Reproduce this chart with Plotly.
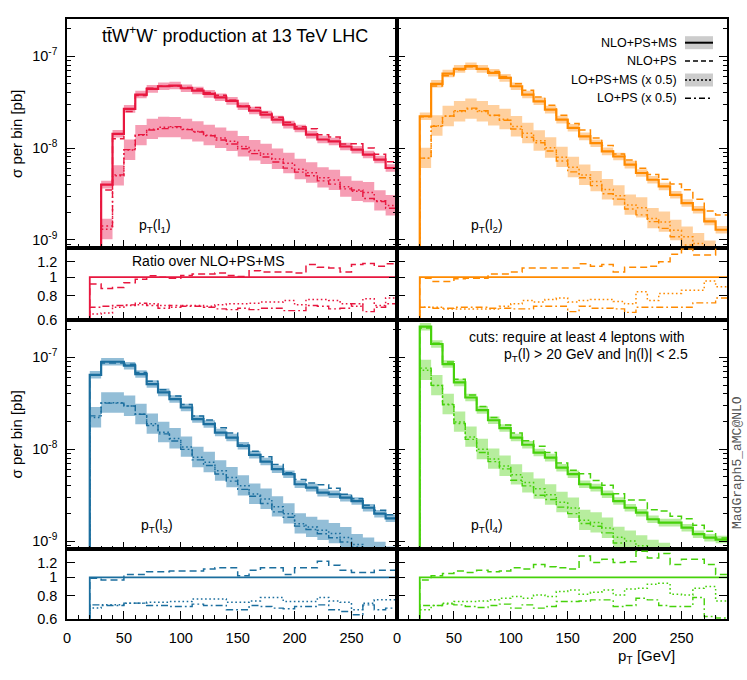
import numpy as np
import plotly.graph_objects as go

# ---------------- data ----------------
bin_lo = [20, 30, 40, 50, 60, 70, 80, 90, 100, 110, 120, 130, 140, 150, 160,
          170, 180, 190, 200, 210, 220, 230, 240, 250, 260, 270, 280]
bin_hi_last = 290
x_ticks = [0, 50, 100, 150, 200, 250]
y_ticks = [1e-9, 1e-8, 1e-7]
y_tick_text = ["10<sup>-9</sup>", "10<sup>-8</sup>", "10<sup>-7</sup>"]
r_ticks = [0.6, 0.8, 1.0, 1.2]
r_tick_text = ["0.6", "0.8", "1", "1.2"]

# NLO+PS+MS cross section per bin [pb]
nlo_psms_l1 = [5e-10, 4.0e-9, 1.43e-8, 2.67e-8, 3.82e-8, 4.41e-8, 4.71e-8, 4.79e-8, 4.48e-8,
               4.23e-8, 3.89e-8, 3.57e-8, 3.26e-8, 2.85e-8, 2.56e-8, 2.31e-8, 2.04e-8, 1.80e-8,
               1.63e-8, 1.40e-8, 1.24e-8, 1.18e-8, 1.04e-8, 9.6e-9, 8.5e-9, 7.5e-9, 6.07e-9]
nlo_psms_l2 = [2.22e-8, 5.0e-8, 6.47e-8, 7.28e-8, 7.78e-8, 7.28e-8, 6.59e-8, 5.81e-8, 4.71e-8,
               3.82e-8, 3.23e-8, 2.62e-8, 2.04e-8, 1.66e-8, 1.34e-8, 1.13e-8, 9.2e-9, 8.1e-9,
               6.6e-9, 5.35e-9, 4.52e-9, 3.82e-9, 3.1e-9, 2.52e-9, 2.13e-9, 1.59e-9, 1.29e-9]
nlo_psms_l3 = [6.47e-8, 8.97e-8, 8.97e-8, 8.12e-8, 6.59e-8, 5.13e-8, 4.16e-8, 3.52e-8, 2.85e-8,
               2.13e-8, 1.88e-8, 1.52e-8, 1.34e-8, 1.09e-8, 8.7e-9, 7.35e-9, 6.07e-9, 5.35e-9,
               4.16e-9, 3.82e-9, 3.37e-9, 3.24e-9, 2.97e-9, 2.73e-9, 2.31e-9, 1.99e-9, 1.77e-9]
nlo_psms_l4 = [2.16e-7, 1.4e-7, 8.47e-8, 5.34e-8, 3.66e-8, 2.67e-8, 2.07e-8, 1.7e-8, 1.34e-8,
               1.12e-8, 9.2e-9, 8.1e-9, 6.3e-9, 5.35e-9, 4.16e-9, 3.82e-9, 3.24e-9, 2.73e-9,
               2.31e-9, 2.04e-9, 1.73e-9, 1.59e-9, 1.59e-9, 1.4e-9, 1.19e-9, 1.09e-9, 1.04e-9]

# ratios over NLO+PS+MS
r_nlops_l1 = [0.922, 0.875, 0.885, 0.937, 0.976, 1.016, 1.0, 0.988, 1.02, 1.037, 1.037, 1.05, 1.02,
              1.008, 1.08, 1.063, 1.063, 1.063, 1.05, 1.162, 1.125, 1.116, 1.063, 1.162, 1.177, 1.139, 1.172]
r_lopsms_l1 = [0.645, 0.653, 0.70, 0.714, 0.72, 0.729, 0.714, 0.70, 0.714, 0.714, 0.708, 0.72, 0.729,
               0.729, 0.734, 0.744, 0.744, 0.759, 0.72, 0.768, 0.768, 0.759, 0.729, 0.708, 0.774, 0.714, 0.781]
r_lops_l1 = [0.70, 0.708, 0.714, 0.72, 0.734, 0.714, 0.691, 0.714, 0.708, 0.708, 0.70, 0.686, 0.68,
             0.691, 0.68, 0.691, 0.691, 0.672, 0.672, 0.714, 0.708, 0.686, 0.691, 0.729, 0.664, 0.70, 0.729]

r_nlops_l2 = [0.988, 0.949, 0.949, 0.98, 0.988, 0.988, 1.037, 1.037, 1.063, 1.116, 1.116, 1.116, 1.116,
              1.116, 1.172, 1.139, 1.162, 1.063, 1.125, 1.125, 1.139, 1.2, 1.313, 1.395, 1.30, 1.30, 1.45]
r_lopsms_l2 = [0.70, 0.70, 0.686, 0.686, 0.686, 0.686, 0.686, 0.708, 0.729, 0.759, 0.744, 0.768, 0.781,
               0.744, 0.759, 0.768, 0.768, 0.749, 0.729, 0.84, 0.759, 0.823, 0.823, 0.857, 0.857, 0.956, 0.893]
r_lops_l2 = [0.70, 0.691, 0.691, 0.70, 0.70, 0.70, 0.691, 0.691, 0.686, 0.686, 0.708, 0.708, 0.708,
             0.664, 0.708, 0.691, 0.691, 0.686, 0.658, 0.70, 0.70, 0.70, 0.70, 0.70, 0.737, 0.737, 0.781]

r_nlops_l3 = [0.988, 0.968, 0.968, 1.037, 1.037, 1.071, 1.071, 1.08, 1.08, 1.08, 1.107, 1.125, 1.125,
              1.02, 1.093, 1.125, 1.125, 1.037, 1.125, 1.125, 1.22, 1.162, 1.093, 1.063, 1.063, 1.093, 1.093]
r_lopsms_l3 = [0.686, 0.714, 0.714, 0.729, 0.729, 0.737, 0.737, 0.744, 0.744, 0.768, 0.768, 0.768, 0.737,
               0.737, 0.749, 0.781, 0.781, 0.744, 0.744, 0.744, 0.781, 0.749, 0.737, 0.672, 0.729, 0.759, 0.759]
r_lops_l3 = [0.714, 0.708, 0.708, 0.729, 0.729, 0.708, 0.708, 0.70, 0.70, 0.72, 0.708, 0.708, 0.672,
             0.672, 0.708, 0.70, 0.686, 0.68, 0.70, 0.70, 0.714, 0.672, 0.658, 0.632, 0.714, 0.672, 0.686]

r_nlops_l4 = [0.968, 1.02, 1.05, 1.08, 1.063, 1.093, 1.071, 1.08, 1.125, 1.107, 1.172, 1.139, 1.125,
              1.107, 1.302, 1.2, 1.25, 1.2, 1.21, 1.378, 1.27, 1.34, 1.172, 1.25, 1.25, 1.172, 1.037]
r_lopsms_l4 = [0.672, 0.708, 0.729, 0.744, 0.744, 0.749, 0.759, 0.774, 0.79, 0.774, 0.806, 0.79, 0.84,
               0.857, 0.813, 0.833, 0.857, 0.806, 0.868, 0.875, 0.918, 0.93, 0.813, 0.806, 0.875, 0.893, 0.749]
r_lops_l4 = [0.708, 0.708, 0.72, 0.714, 0.70, 0.691, 0.708, 0.72, 0.686, 0.714, 0.686, 0.70, 0.744,
             0.744, 0.749, 0.759, 0.759, 0.70, 0.708, 0.774, 0.759, 0.708, 0.70, 0.70, 0.781, 0.619, 0.607]

# relative scale-uncertainty bands
nlo_band_up = [1.10, 1.10, 1.10, 1.10]
nlo_band_dn = [0.91, 0.91, 0.91, 0.91]
lo_band_up = [1.30, 1.30, 1.30, 1.30]
lo_band_dn = [0.78, 0.78, 0.78, 0.78]
lo_scale = 0.5

panel_labels = ["p<sub>T</sub>(l<sub>1</sub>)", "p<sub>T</sub>(l<sub>2</sub>)",
                "p<sub>T</sub>(l<sub>3</sub>)", "p<sub>T</sub>(l<sub>4</sub>)"]
legend_names = ["NLO+PS+MS", "NLO+PS", "LO+PS+MS (x 0.5)", "LO+PS (x 0.5)"]

line_colors = ["#e8173f", "#ff8a00", "#1b6e9e", "#46d10a"]
band_colors = ["rgba(238,60,105,0.50)", "rgba(255,150,40,0.45)",
               "rgba(40,125,175,0.50)", "rgba(95,215,40,0.45)"]

nlo_all = [nlo_psms_l1, nlo_psms_l2, nlo_psms_l3, nlo_psms_l4]
r_nlops_all = [r_nlops_l1, r_nlops_l2, r_nlops_l3, r_nlops_l4]
r_lopsms_all = [r_lopsms_l1, r_lopsms_l2, r_lopsms_l3, r_lopsms_l4]
r_lops_all = [r_lops_l1, r_lops_l2, r_lops_l3, r_lops_l4]

# ---------------- layout geometry ----------------
W, H = 747, 680
ML, MR, MT, MB = 67, 20, 19, 61
PW, PH = W - ML - MR, H - MT - MB


def px(x, y):
    return (x - ML) / PW, (H - MB - y) / PH


x_dom = [[0.0, 0.5], [0.5, 1.0]]
main_dom = [[0.618, 1.0], [0.116, 0.498]]
ratio_dom = [[0.498, 0.618], [0.0, 0.116]]

DASH = "7px,4px"
DOT = "1.6px,2.6px"
DASHDOT = "7px,3px,1.8px,3px"

fig = go.Figure()

step_x = bin_lo + [bin_hi_last]


def step(vals):
    return list(vals) + [vals[-1]]


def with_edge(vals, floor):
    return [bin_lo[0]] + step_x, [floor] + step(vals)


for p in range(4):
    xa_m, ya_m = "x%d" % (2 * p + 1) if p else "x", "y%d" % (2 * p + 1) if p else "y"
    xa_r, ya_r = "x%d" % (2 * p + 2), "y%d" % (2 * p + 2)
    col = line_colors[p]
    bcol = band_colors[p]
    nlo = np.array(nlo_all[p])
    r1 = np.array(r_nlops_all[p])
    r2 = np.array(r_lopsms_all[p])
    r3 = np.array(r_lops_all[p])
    nlo_ps = nlo * r1
    lo_psms = nlo * r2 * lo_scale
    lo_ps = nlo * r3 * lo_scale

    # bands
    for center, up, dn in [(nlo, nlo_band_up[p], nlo_band_dn[p]),
                           (lo_psms, lo_band_up[p], lo_band_dn[p])]:
        fig.add_trace(go.Scatter(x=step_x, y=step(center * dn), xaxis=xa_m, yaxis=ya_m,
                                 mode="lines", line=dict(width=0, shape="hv"),
                                 showlegend=False, hoverinfo="skip"))
        fig.add_trace(go.Scatter(x=step_x, y=step(center * up), xaxis=xa_m, yaxis=ya_m,
                                 mode="lines", line=dict(width=0, shape="hv"),
                                 fill="tonexty", fillcolor=bcol,
                                 showlegend=False, hoverinfo="skip"))

    floor = 1e-12
    for vals, dash, w in [(lo_ps, DASHDOT, 1.4), (lo_psms, DOT, 1.5),
                          (nlo_ps, DASH, 1.5), (nlo, "solid", 2.2)]:
        xs, ys = with_edge(vals, floor)
        fig.add_trace(go.Scatter(x=xs, y=ys, xaxis=xa_m, yaxis=ya_m, mode="lines",
                                 line=dict(color=col, width=w, dash=dash, shape="hv"),
                                 showlegend=False, hoverinfo="skip"))

    # ratio panel
    ones = nlo / nlo
    for vals, dash, w in [(r3, DASHDOT, 1.4), (r2, DOT, 1.5), (r1, DASH, 1.5), (ones, "solid", 1.8)]:
        xs, ys = with_edge(vals, 0.1)
        fig.add_trace(go.Scatter(x=xs, y=ys, xaxis=xa_r, yaxis=ya_r, mode="lines",
                                 line=dict(color=col, width=w, dash=dash, shape="hv"),
                                 showlegend=False, hoverinfo="skip"))

tickfont = dict(family="Liberation Sans, Arial, sans-serif", size=14.5, color="black")
minor_y_vals = [m * 10.0 ** e for e in (-10, -9, -8, -7) for m in range(2, 10)]

layout = dict(width=W, height=H, margin=dict(l=ML, r=MR, t=MT, b=MB),
              paper_bgcolor="white", plot_bgcolor="white", showlegend=False,
              font=dict(family="Liberation Sans, Arial, sans-serif", size=14, color="black"))

for p in range(4):
    col_i, row_i = p % 2, p // 2
    km, kr = 2 * p + 1, 2 * p + 2
    for k, ydom, is_ratio in [(km, main_dom[row_i], False), (kr, ratio_dom[row_i], True)]:
        xname = "xaxis" if k == 1 else "xaxis%d" % k
        yname = "yaxis" if k == 1 else "yaxis%d" % k
        anchor_y = "y" if k == 1 else "y%d" % k
        anchor_x = "x" if k == 1 else "x%d" % k
        layout[xname] = dict(domain=x_dom[col_i], anchor=anchor_y, range=[0, 290],
                             tickmode="array", tickvals=x_ticks,
                             ticks="inside", ticklen=8, tickwidth=1.2, tickcolor="black",
                             showline=True, linecolor="black", linewidth=1.6, mirror=True,
                             showgrid=False, zeroline=False,
                             showticklabels=(is_ratio and row_i == 1),
                             tickfont=tickfont, ticklabelstandoff=5,
                             minor=dict(ticks="inside", ticklen=4, tickwidth=1, tickcolor="black",
                                        tickmode="array",
                                        tickvals=[v for v in range(0, 300, 10) if v % 50],
                                        showgrid=False))
        if not is_ratio:
            layout[yname] = dict(domain=ydom, anchor=anchor_x, type="log",
                                 range=[-9.09, -6.595], tickmode="array",
                                 tickvals=y_ticks, ticktext=y_tick_text,
                                 ticks="inside", ticklen=8, tickwidth=1.2, tickcolor="black",
                                 showline=True, linecolor="black", linewidth=1.6, mirror="ticks",
                                 showgrid=False, zeroline=False,
                                 showticklabels=(col_i == 0), tickfont=tickfont,
                                 ticklabelstandoff=5,
                                 minor=dict(ticks="inside", ticklen=4, tickwidth=1,
                                            tickcolor="black", tickmode="array",
                                            tickvals=minor_y_vals, showgrid=False))
        else:
            layout[yname] = dict(domain=ydom, anchor=anchor_x, type="log",
                                 range=[np.log10(0.6), np.log10(1.41)], tickmode="array",
                                 tickvals=r_ticks, ticktext=r_tick_text,
                                 ticks="inside", ticklen=8, tickwidth=1.2, tickcolor="black",
                                 showline=True, linecolor="black", linewidth=1.6, mirror="ticks",
                                 showgrid=False, zeroline=False,
                                 showticklabels=(col_i == 0), tickfont=tickfont,
                                 ticklabelstandoff=5)

fig.update_layout(**layout)

ann = []
shapes = []


def add_text(x, y, text, size=14, xanchor="center", yanchor="middle", angle=0,
             family="Liberation Sans, Arial, sans-serif", color="black"):
    ax, ay = px(x, y)
    ann.append(dict(x=ax, y=ay, xref="paper", yref="paper", text=text, showarrow=False,
                    xanchor=xanchor, yanchor=yanchor, textangle=angle,
                    font=dict(family=family, size=size, color=color)))


add_text(235, 35, "tt\u0304W<sup>+</sup>W<sup>-</sup> production at 13 TeV LHC", size=18)
add_text(155, 226, panel_labels[0], size=14)
add_text(487, 226, panel_labels[1], size=14)
add_text(157, 526, panel_labels[2], size=14)
add_text(487, 526, panel_labels[3], size=14)
add_text(208, 261, "Ratio over NLO+PS+MS", size=14)
add_text(687, 337, "cuts: require at least 4 leptons with", size=14, xanchor="right")
add_text(690, 355, "p<sub>T</sub>(l) > 20 GeV and |\u03b7(l)| < 2.5", size=14, xanchor="right")
add_text(737, 463, "MadGraph5_aMC@NLO", size=13, angle=-90,
         family="Liberation Mono, DejaVu Sans Mono, monospace", color="#555555")
add_text(646, 656, "p<sub>T</sub> [GeV]", size=15)
add_text(16, 134, "\u03c3 per bin [pb]", size=15, angle=-90)
add_text(16, 434.5, "\u03c3 per bin [pb]", size=15, angle=-90)

# legend (drawn manually: text left of sample box)
leg_y = [42.7, 61, 80, 98.3]
leg_dash = ["solid", "5px,3px", "2px,2px", "6px,3px,2px,3px"]
for i, name in enumerate(legend_names):
    add_text(679, leg_y[i], name, size=12.5, xanchor="right")
    x0, y0 = px(685, leg_y[i])
    x1, _ = px(713, leg_y[i])
    if i in (0, 2):
        _, yb = px(0, leg_y[i] + 6.5)
        _, yt = px(0, leg_y[i] - 6.5)
        shapes.append(dict(type="rect", xref="paper", yref="paper", x0=x0, x1=x1, y0=yb, y1=yt,
                           fillcolor="#cccccc", line=dict(width=0), layer="above"))
    shapes.append(dict(type="line", xref="paper", yref="paper", x0=x0, x1=x1, y0=y0, y1=y0,
                       line=dict(color="black", width=2 if i == 0 else 1.5, dash=leg_dash[i]),
                       layer="above"))

fig.update_layout(annotations=ann, shapes=shapes)
fig.write_html("out.html", config={"displayModeBar": False},
               post_script="document.body.style.margin='0';document.body.style.padding='0';")
